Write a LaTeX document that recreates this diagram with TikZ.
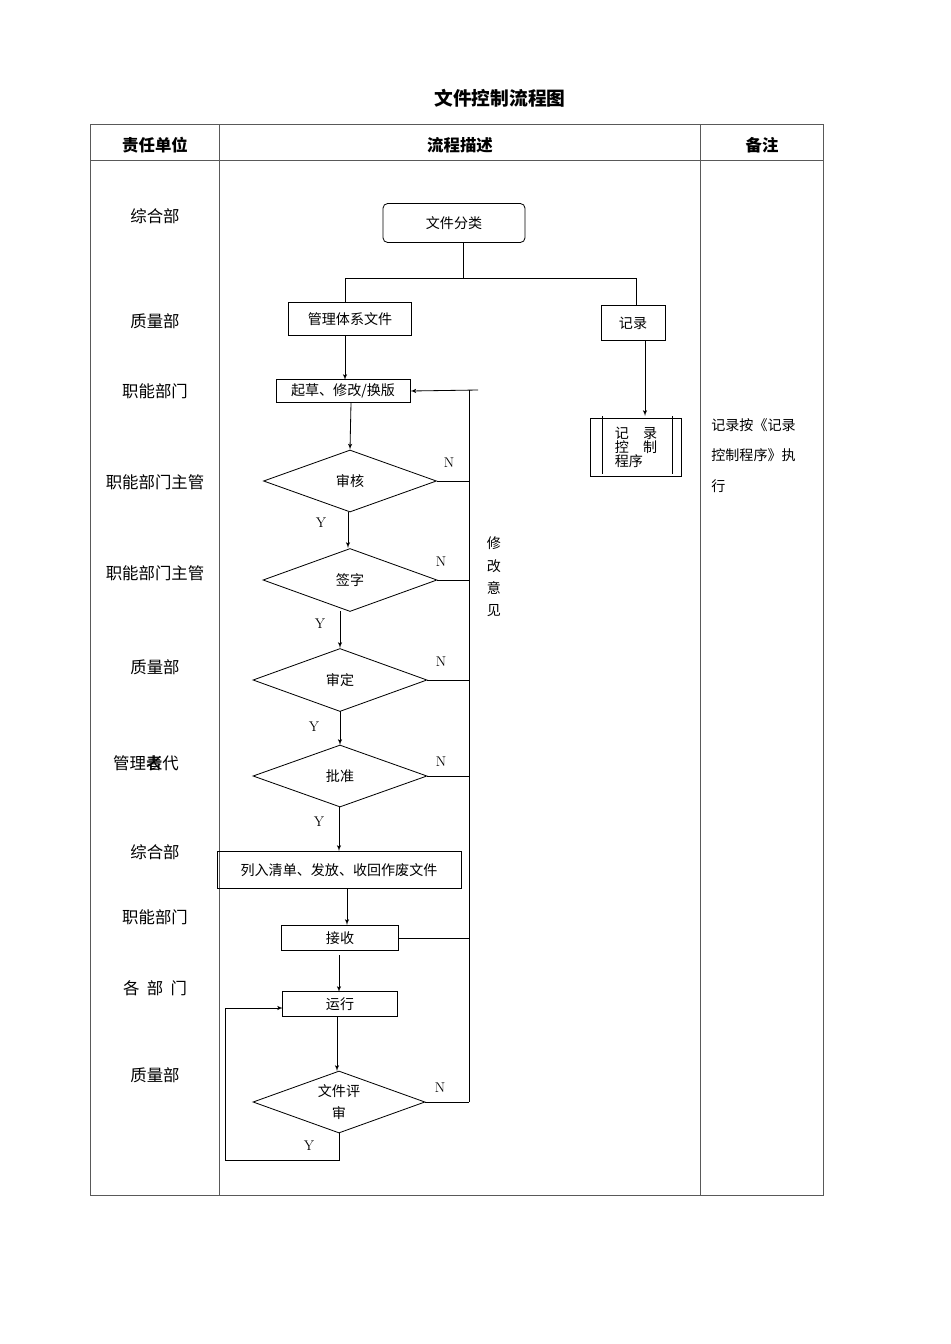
\documentclass[tikz,border=0pt]{standalone}
\usepackage{fontspec}
\newfontfamily\cjk{Noto Sans CJK SC}
\usetikzlibrary{arrows}
\usetikzlibrary{shapes.geometric}
\begin{document}
\begin{tikzpicture}[x=0.03cm, y=-0.03cm, >=latex', line width=0.7pt, font=\cjk\fontsize{12}{14}\selectfont]
    \tikzstyle{block} = [draw, rectangle, inner sep=0pt];
    \tikzstyle{dec} = [draw, diamond, aspect=2.8, inner sep=0pt];
    \tikzstyle{lab} = [font=\cjk\fontsize{14}{16}\selectfont];
    \tikzstyle{yn} = [font=\rmfamily\fontsize{12}{14}\selectfont];
    \useasboundingbox (0,0) rectangle (950,1344);
    % table
    \node [font=\cjk\bfseries\fontsize{16}{18}\selectfont] (title) at (500,98) {文件控制流程图};
    \draw [gray!70!black] (90,124) rectangle (823,1195);
    \draw [gray!70!black] (90,160) -- (823,160) (219,124) -- (219,1195) (700,124) -- (700,1195);
    \node [font=\cjk\bfseries\fontsize{14}{16}\selectfont] (h1) at (155,145) {责任单位};
    \node [font=\cjk\bfseries\fontsize{14}{16}\selectfont] (h2) at (460,145) {流程描述};
    \node [font=\cjk\bfseries\fontsize{14}{16}\selectfont] (h3) at (762,145) {备注};
    % responsible units
    \node [lab] (u1) at (155,216) {综合部};
    \node [lab] (u2) at (155,321) {质量部};
    \node [lab] (u3) at (155,391) {职能部门};
    \node [lab] (u4) at (155,482) {职能部门主管};
    \node [lab] (u5) at (155,573) {职能部门主管};
    \node [lab] (u6) at (155,667) {质量部};
    \node [lab] (u7) at (146,763) {管理\makebox[0pt][l]{者}表代};
    \node [lab] (u8) at (155,852) {综合部};
    \node [lab] (u9) at (155,917) {职能部门};
    \node [lab] (u10) at (155,988) {各\ \ 部\ \ 门};
    \node [lab] (u11) at (155,1075) {质量部};
    \node [align=left, anchor=north west, font=\cjk\fontsize{12}{26}\selectfont] (note) at (707,414) {记录按《记录\\控制程序》执\\行};
    % flow
    \node [block, rounded corners=4pt, minimum width=4.26cm, minimum height=1.17cm] (cls) at (454,223) {文件分类};
    \node [block, minimum width=3.69cm, minimum height=0.99cm] (sys) at (350,319) {管理体系文件};
    \node [block, minimum width=1.92cm, minimum height=1.05cm] (rec) at (633,323) {记录};
    \node [block, minimum width=2.73cm, minimum height=1.74cm, align=left, font=\cjk\fontsize{12}{12}\selectfont] (recp) at (636,447) {记\quad 录\\控\quad 制\\程序};
    \draw (602,416) -- (602,474) (672,416) -- (672,474);
    \node [block, minimum width=4.02cm, minimum height=0.69cm] (draft) at (343,391) {起草、修改/换版};
    \node [dec, minimum width=5.19cm, minimum height=1.86cm] (chk) at (350,481) {审核};
    \node [dec, minimum width=5.22cm, minimum height=1.89cm] (sig) at (350,580) {签字};
    \node [dec, minimum width=5.22cm, minimum height=1.89cm] (aud) at (340,680) {审定};
    \node [dec, minimum width=5.22cm, minimum height=1.86cm] (app) at (340,776) {批准};
    \node [block, minimum width=7.32cm, minimum height=1.11cm] (list) at (339,870) {列入清单、发放、收回作废文件};
    \node [block, minimum width=3.51cm, minimum height=0.75cm] (recv) at (340,938) {接收};
    \node [block, minimum width=3.45cm, minimum height=0.75cm] (run) at (340,1004) {运行};
    \node [dec, minimum width=5.16cm, minimum height=1.86cm, align=center, font=\cjk\fontsize{12}{19}\selectfont] (rev) at (339,1102) {文件评\\审};
    \coordinate (fb) at (469,390);
    \coordinate (fs) at (478,390);
    \coordinate (fe) at (469,1102);
    \coordinate (lp) at (225,1160);
    % connectors
    \draw (463,243) -- (463,278);
    \draw (345,303) -- (345,278) -- (636,278) -- (636,306);
    \draw [->] (345,336) -- (345,380);
    \draw [->] (645,341) -- (645,416);
    \draw [->] (fs) -- (draft.east);
    \draw [->] (351,403) -- (chk.north);
    \draw [->] (348,512) -- (348,548);
    \draw [->] (340,611) -- (340,648);
    \draw [->] (340,711) -- (340,745);
    \draw [->] (339,807) -- (339,851);
    \draw [->] (347,888) -- (347,925);
    \draw [->] (339,955) -- (339,992);
    \draw [->] (337,1017) -- (337,1071);
    \draw (fb) -- (fe);
    \draw (chk.east) -- (469,481) (sig.east) -- (469,580) (aud.east) -- (469,680) (app.east) -- (469,776);
    \draw (recv.east) -- (469,938) (rev.east) -- (fe);
    \draw [->] (rev.south) -- (339,1160) -- (lp) -- (225,1008) -- (283,1008);
    % labels
    \node [align=center, font=\cjk\fontsize{12}{19}\selectfont] (mod) at (494,577) {修\\改\\意\\见};
    \node [yn] (n1) at (449,463) {N};
    \node [yn] (n2) at (441,562) {N};
    \node [yn] (n3) at (441,662) {N};
    \node [yn] (n4) at (441,762) {N};
    \node [yn] (n5) at (440,1088) {N};
    \node [yn] (y1) at (321,523) {Y};
    \node [yn] (y2) at (320,624) {Y};
    \node [yn] (y3) at (314,727) {Y};
    \node [yn] (y4) at (319,822) {Y};
    \node [yn] (y5) at (309,1146) {Y};
\end{tikzpicture}
\end{document}
